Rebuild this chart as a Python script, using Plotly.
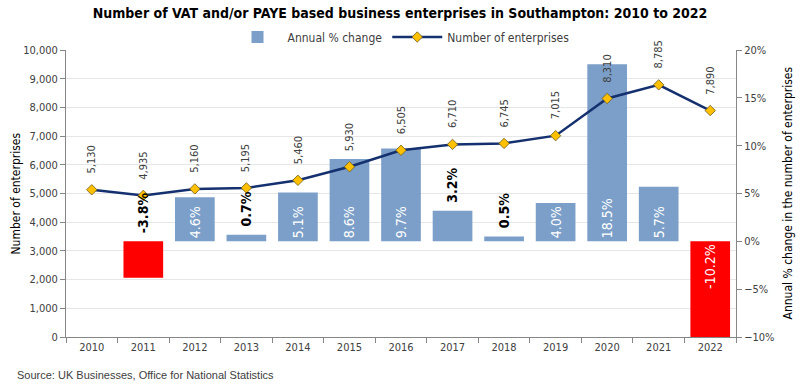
import plotly.graph_objects as go

years = ["2010", "2011", "2012", "2013", "2014", "2015", "2016", "2017", "2018", "2019", "2020", "2021", "2022"]
enterprises = [5130, 4935, 5160, 5195, 5460, 5930, 6505, 6710, 6745, 7015, 8310, 8785, 7890]
pct_years = ["2011", "2012", "2013", "2014", "2015", "2016", "2017", "2018", "2019", "2020", "2021", "2022"]
pct_change = [-3.8, 4.6, 0.7, 5.1, 8.6, 9.7, 3.2, 0.5, 4.0, 18.5, 5.7, -10.2]
outside_label_years = ["2011", "2013", "2017", "2018"]

FONT = "Liberation Sans Narrow, DejaVu Sans Condensed, Arial Narrow, sans-serif"
BLUE = "#7b9fc8"
RED = "#ff0000"

def label(y, v):
    return "" if y in outside_label_years else f"{v:.1f}%"

pos_x = [y for y, v in zip(pct_years, pct_change) if v >= 0]
pos_v = [v for v in pct_change if v >= 0]
neg_x = [y for y, v in zip(pct_years, pct_change) if v < 0]
neg_v = [v for v in pct_change if v < 0]

fig = go.Figure()
common_bar = dict(textposition="inside", insidetextanchor="start", textangle=-90,
                  textfont=dict(color="white", size=14, family=FONT), width=0.77,
                  yaxis="y", hoverinfo="skip", constraintext="none")
fig.add_trace(go.Bar(
    x=pos_x, y=pos_v, name="Annual % change", marker=dict(color=BLUE, line=dict(width=0)),
    text=[label(y, v) for y, v in zip(pos_x, pos_v)], legendgroup="pct", **common_bar))
fig.add_trace(go.Bar(
    x=neg_x, y=neg_v, name="Annual % change", marker=dict(color=RED, line=dict(width=0)),
    text=[label(y, v) for y, v in zip(neg_x, neg_v)], legendgroup="pct", showlegend=False, **common_bar))
fig.add_trace(go.Scatter(
    x=years, y=enterprises, name="Number of enterprises", yaxis="y2",
    mode="lines+markers",
    line=dict(color="#14306e", width=2.5),
    marker=dict(symbol="diamond", size=8, color="#ffc000", line=dict(color="#6b5a1a", width=0.8)),
))

annotations = []
for y, v in zip(pct_years, pct_change):
    if y in outside_label_years:
        annotations.append(dict(
            x=years.index(y), y=max(v, 0), xref="x", yref="y", text=f"<b>{v:.1f}%</b>",
            textangle=-90, showarrow=False, yanchor="bottom", yshift=6,
            font=dict(size=14, color="black", family=FONT),
        ))
for i, (y, v) in enumerate(zip(years, enterprises)):
    annotations.append(dict(
        x=i, y=v, xref="x", yref="y2", text=f"{v:,}",
        textangle=-90, showarrow=False, yanchor="bottom", yshift=14,
        font=dict(size=11, color="#404040", family=FONT),
    ))

W, H = 800, 388
ML, MR, MT, MB = 66, 64, 50, 51
pw, ph = W - ML - MR, H - MT - MB
def px(xp):
    return (xp - ML) / pw
def py(yp):
    return (H - yp - MB) / ph

annotations.append(dict(
    x=px(15), y=py(375), xref="paper", yref="paper", xanchor="left", yanchor="middle",
    text="Source: UK Businesses, Office for National Statistics",
    showarrow=False, font=dict(size=11, color="#404040", family="Liberation Sans, Arial, sans-serif"),
))
annotations.append(dict(
    x=px(787), y=0.5, xref="paper", yref="paper", xanchor="center", yanchor="middle",
    text="Annual % change in the number of enterprises", textangle=-90,
    showarrow=False, font=dict(size=12, color="black", family=FONT),
))
annotations.append(dict(
    x=px(15), y=0.5, xref="paper", yref="paper", xanchor="center", yanchor="middle",
    text="Number of enterprises", textangle=-90,
    showarrow=False, font=dict(size=12, color="black", family=FONT),
))

fig.update_layout(
    width=W, height=H,
    margin=dict(l=ML, r=MR, t=MT, b=MB, autoexpand=False),
    paper_bgcolor="white", plot_bgcolor="white",
    font=dict(family=FONT, size=11, color="#404040"),
    title=dict(text="<b>Number of VAT and/or PAYE based business enterprises in Southampton: 2010 to 2022</b>",
               x=0.5, xanchor="center", y=1 - 13 / H, yanchor="middle",
               font=dict(size=14, color="black", family=FONT)),
    showlegend=True,
    barmode="overlay",
    legend=dict(orientation="h", x=0.5, xanchor="center", y=1 - 37 / H, yref="container", yanchor="middle",
                font=dict(size=12, color="#404040", family=FONT), traceorder="normal",
                itemwidth=50, bgcolor="rgba(0,0,0,0)"),
    xaxis=dict(type="category", categoryorder="array", categoryarray=years, range=[-0.5, 12.5],
               showline=True, linecolor="#868686", linewidth=1, ticks="outside", tickson="boundaries",
               ticklen=5, tickcolor="#868686", showgrid=False,
               tickfont=dict(size=11, color="#404040", family=FONT)),
    yaxis=dict(side="right", range=[-10, 20], dtick=5, ticksuffix="%", showgrid=False, zeroline=False,
               showline=True, linecolor="#868686", linewidth=1, ticks="outside", ticklen=5, tickcolor="#868686",
               tickfont=dict(size=11, color="#404040", family=FONT), automargin=False),
    yaxis2=dict(side="left", overlaying="y", range=[0, 10000], dtick=1000, tickformat=",",
                showgrid=True, gridcolor="#e6e6e6", zeroline=False,
                showline=True, linecolor="#868686", linewidth=1, ticks="outside", ticklen=5, tickcolor="#868686",
                tickfont=dict(size=11, color="#404040", family=FONT), automargin=False),
    annotations=annotations,
)

fig.write_html("out.html", config={"displayModeBar": False},
               post_script="document.body.style.margin='0';document.body.style.overflow='hidden';")
